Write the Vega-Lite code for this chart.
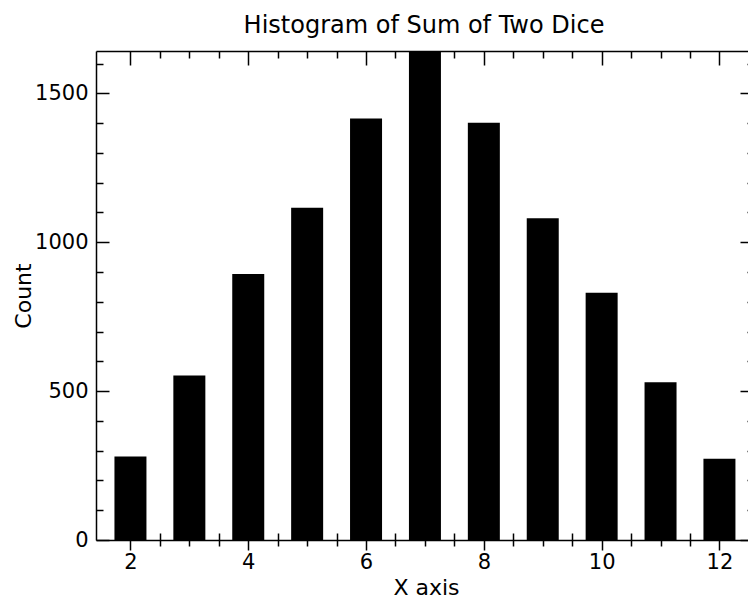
{
  "$schema": "https://vega.github.io/schema/vega-lite/v6.json",
  "width": 652,
  "height": 489,
  "autosize": {"type": "none"},
  "padding": {"left": 96, "top": 51, "right": 0, "bottom": 58},
  "background": "white",
  "config": {
    "view": {"stroke": null},
    "font": "DejaVu Sans",
    "axis": {
      "grid": false,
      "domainColor": "black",
      "tickColor": "black",
      "labelColor": "black",
      "titleColor": "black",
      "labelFont": "DejaVu Sans",
      "titleFont": "DejaVu Sans",
      "labelFontSize": 21,
      "titleFontSize": 22,
      "titleFontWeight": "normal",
      "tickWidth": 1.5,
      "domainWidth": 1.5,
      "labelFlush": false,
      "labelOverlap": false
    }
  },
  "title": {
    "text": "Histogram of Sum of Two Dice",
    "font": "DejaVu Sans",
    "fontSize": 24,
    "fontWeight": "normal",
    "color": "black",
    "anchor": "middle",
    "frame": "group",
    "baseline": "bottom",
    "offset": 14,
    "dx": 2,
    "dy": 33
  },
  "data": {
    "values": [
      {"sum": 2, "count": 280},
      {"sum": 3, "count": 552},
      {"sum": 4, "count": 893},
      {"sum": 5, "count": 1116},
      {"sum": 6, "count": 1415},
      {"sum": 7, "count": 1660},
      {"sum": 8, "count": 1401},
      {"sum": 9, "count": 1080},
      {"sum": 10, "count": 830},
      {"sum": 11, "count": 530},
      {"sum": 12, "count": 273}
    ]
  },
  "resolve": {"axis": {"x": "independent", "y": "independent"}},
  "layer": [
    {
      "mark": {"type": "bar", "color": "black", "width": 32, "clip": true},
      "encoding": {
        "x": {
          "field": "sum", "type": "quantitative",
          "scale": {"domain": [1.5, 12.4], "nice": false, "zero": false},
          "axis": {
            "orient": "bottom", "values": [2, 4, 6, 8, 10, 12], "format": "d",
            "tickSize": 10, "labelPadding": 1,
            "title": "X axis", "titleX": 330, "titleY": 54,
            "titleBaseline": "alphabetic", "titleAlign": "center"
          }
        },
        "y": {
          "field": "count", "type": "quantitative",
          "scale": {"domain": [0, 1642], "nice": false, "zero": true},
          "axis": {
            "orient": "left", "values": [0, 500, 1000, 1500], "format": "d",
            "tickSize": -13, "labelPadding": 21,
            "title": "Count", "titleX": -66, "titleY": 244.5, "titleAngle": -90,
            "titleBaseline": "alphabetic", "titleAlign": "center"
          }
        }
      }
    },
    {
      "mark": {"type": "point", "opacity": 0},
      "encoding": {
        "x": {
          "field": "sum", "type": "quantitative",
          "scale": {"domain": [1.5, 12.4], "nice": false, "zero": false},
          "axis": {
            "orient": "bottom",
            "values": [2.5, 3, 3.5, 4.5, 5, 5.5, 6.5, 7, 7.5, 8.5, 9, 9.5, 10.5, 11, 11.5],
            "tickSize": 13, "offset": -7, "domain": false, "labels": false, "title": null
          }
        },
        "y": {
          "field": "count", "type": "quantitative",
          "scale": {"domain": [0, 1642], "nice": false, "zero": true},
          "axis": {
            "orient": "left",
            "values": [100, 200, 300, 400, 600, 700, 800, 900, 1100, 1200, 1300, 1400, 1600],
            "tickSize": -7, "domain": false, "labels": false, "title": null
          }
        }
      }
    },
    {
      "mark": {"type": "point", "opacity": 0},
      "encoding": {
        "x": {
          "field": "sum", "type": "quantitative",
          "scale": {"domain": [1.5, 12.4], "nice": false, "zero": false},
          "axis": {
            "orient": "top", "values": [2, 4, 6, 8, 10, 12],
            "tickSize": -14, "domain": true, "labels": false, "title": null
          }
        },
        "y": {
          "field": "count", "type": "quantitative",
          "scale": {"domain": [0, 1642], "nice": false, "zero": true},
          "axis": {
            "orient": "right", "values": [0, 500, 1000, 1500],
            "tickSize": -14, "offset": 6, "domain": false, "labels": false, "title": null
          }
        }
      }
    },
    {
      "mark": {"type": "point", "opacity": 0},
      "encoding": {
        "x": {
          "field": "sum", "type": "quantitative",
          "scale": {"domain": [1.5, 12.4], "nice": false, "zero": false},
          "axis": {
            "orient": "top",
            "values": [2.5, 3, 3.5, 4.5, 5, 5.5, 6.5, 7, 7.5, 8.5, 9, 9.5, 10.5, 11, 11.5],
            "tickSize": -7, "domain": false, "labels": false, "title": null
          }
        },
        "y": {
          "field": "count", "type": "quantitative",
          "scale": {"domain": [0, 1642], "nice": false, "zero": true},
          "axis": {
            "orient": "right",
            "values": [100, 200, 300, 400, 600, 700, 800, 900, 1100, 1200, 1300, 1400, 1600],
            "tickSize": -7, "offset": 6, "domain": false, "labels": false, "title": null
          }
        }
      }
    }
  ]
}
